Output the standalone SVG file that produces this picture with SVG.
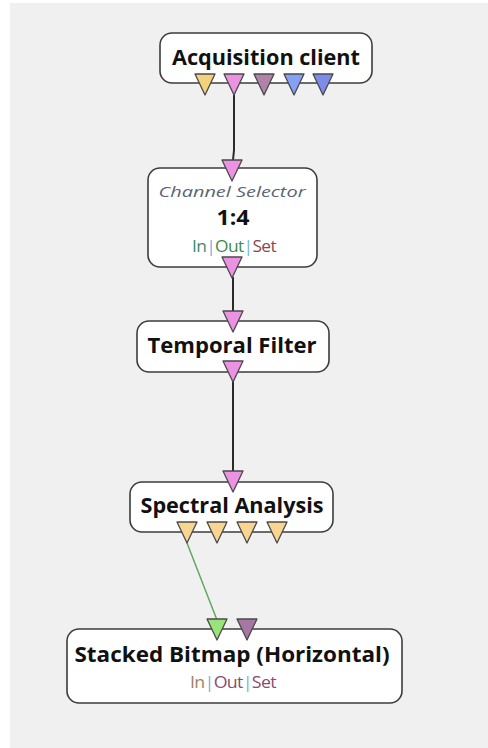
<svg xmlns="http://www.w3.org/2000/svg" width="488" height="748" viewBox="0 0 488 748">
<style>
.box{fill:#fff;stroke:#3c3c3c;stroke-width:1.6}
.t{font-family:"Open Sans","Liberation Sans",sans-serif;font-weight:bold;font-size:21px;fill:#111;text-anchor:middle}
.sub{font-family:"Open Sans","Liberation Sans",sans-serif;font-style:italic;font-size:14.5px;fill:#5a6478;text-anchor:middle}
.ios{font-family:"Open Sans","Liberation Sans",sans-serif;font-size:16.5px;letter-spacing:-0.6px;text-anchor:middle}
.pin{stroke:#4a4a4a;stroke-width:1.3;stroke-linejoin:round}
.wire{fill:none;stroke:#2a2a2a;stroke-width:2}
</style>
<defs>
<path id="tri" d="M-10,0 L10,0 L0,21 Z"/>
</defs>
<rect x="10" y="3" width="478" height="745" fill="#f0f0f0"/>
<g id="connectors">
<path class="wire" d="M234,95 L234,150 L233,160"/>
<path class="wire" d="M233,277 L233,312"/>
<path class="wire" d="M233,380 L233,471"/>
<path d="M187,543 L217,620" fill="none" stroke="#5fa862" stroke-width="1.5"/>
</g>
<g id="acquisition-client">
<rect class="box" x="160" y="33" width="212" height="50" rx="12"/>
<text class="t" x="266" y="65" textLength="188" lengthAdjust="spacingAndGlyphs">Acquisition client</text>
<use href="#tri" class="pin" x="205" y="74" fill="#f2d27c"/>
<use href="#tri" class="pin" x="234" y="74" fill="#ec92e2"/>
<use href="#tri" class="pin" x="264" y="74" fill="#b083a8"/>
<use href="#tri" class="pin" x="294" y="74" fill="#86a0f4"/>
<use href="#tri" class="pin" x="323" y="74" fill="#7d8ce8"/>
</g>
<g id="channel-selector">
<rect class="box" x="148" y="168" width="169" height="99" rx="12"/>
<text class="sub" x="232" y="197" textLength="147" lengthAdjust="spacingAndGlyphs">Channel Selector</text>
<text class="t" x="233" y="225" font-size="20" textLength="33" lengthAdjust="spacingAndGlyphs">1:4</text>
<text class="ios" x="234" y="252" textLength="84" lengthAdjust="spacingAndGlyphs"><tspan fill="#3f8a6c">In</tspan><tspan fill="#6ab4e4">|</tspan><tspan fill="#3c8c48">Out</tspan><tspan fill="#6ab4e4">|</tspan><tspan fill="#8c4650">Set</tspan></text>
<use href="#tri" class="pin" x="232" y="160" fill="#ec92e2"/>
<use href="#tri" class="pin" x="232" y="257" fill="#ec92e2"/>
</g>
<g id="temporal-filter">
<rect class="box" x="137" y="321" width="192" height="51" rx="12"/>
<text class="t" x="232" y="353" textLength="169" lengthAdjust="spacingAndGlyphs">Temporal Filter</text>
<use href="#tri" class="pin" x="233" y="311" fill="#ec92e2"/>
<use href="#tri" class="pin" x="233" y="361" fill="#ec92e2"/>
</g>
<g id="spectral-analysis">
<rect class="box" x="130" y="482" width="203" height="50" rx="12"/>
<text class="t" x="232" y="513" textLength="183" lengthAdjust="spacingAndGlyphs">Spectral Analysis</text>
<use href="#tri" class="pin" x="233" y="471" fill="#ec92e2"/>
<use href="#tri" class="pin" x="187" y="522" fill="#f8d590"/>
<use href="#tri" class="pin" x="217" y="522" fill="#f8d590"/>
<use href="#tri" class="pin" x="247" y="522" fill="#f8d590"/>
<use href="#tri" class="pin" x="277" y="522" fill="#f8d590"/>
</g>
<g id="stacked-bitmap">
<rect class="box" x="67" y="629" width="335" height="74" rx="12"/>
<text class="t" x="232" y="662" textLength="315" lengthAdjust="spacingAndGlyphs">Stacked Bitmap (Horizontal)</text>
<text class="ios" x="233" y="688" textLength="86" lengthAdjust="spacingAndGlyphs"><tspan fill="#a0825e">In</tspan><tspan fill="#6ab4e4">|</tspan><tspan fill="#8a4a72">Out</tspan><tspan fill="#6ab4e4">|</tspan><tspan fill="#8a4a72">Set</tspan></text>
<use href="#tri" class="pin" x="217" y="619" fill="#98e47a"/>
<use href="#tri" class="pin" x="247" y="619" fill="#a677a2"/>
</g>
</svg>
